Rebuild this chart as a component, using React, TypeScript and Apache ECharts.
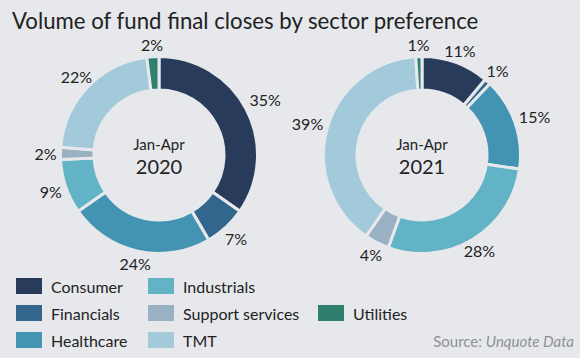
import React, { useEffect, useRef } from "react";
import * as echarts from "echarts";

const categories = [
  "Consumer",
  "Financials",
  "Healthcare",
  "Industrials",
  "Support services",
  "TMT",
  "Utilities",
];
const colors = ["#283b5b", "#33668c", "#4393b3", "#61b3c5", "#9ab0c3", "#a3cadb", "#2f7f6f"];
const values2020 = [35, 7, 24, 9, 2, 22, 2];
const values2021 = [11, 1, 15, 28, 4, 39, 1];
const periodLabel = "Jan-Apr";
const years = ["2020", "2021"];
const legendCol1 = ["Consumer", "Financials", "Healthcare"];
const legendCol2 = ["Industrials", "Support services", "TMT"];
const legendCol3 = ["Utilities"];

const BG = "#e6e8ec";
const FONT = "Lato";
const TEXT = "#222222";

function labelLayout(p: any) {
  const pts = p.labelLinePoints;
  if (!pts || pts.length < 2) return {};
  const [x0, y0] = pts[0];
  const [x1, y1] = pts[1];
  let ux = x1 - x0;
  let uy = y1 - y0;
  const L = Math.hypot(ux, uy) || 1;
  ux /= L;
  uy /= L;
  const w = p.labelRect.width;
  const h = p.labelRect.height;
  const tx = Math.abs(ux) > 1e-6 ? w / 2 / Math.abs(ux) : Infinity;
  const ty = Math.abs(uy) > 1e-6 ? h / 2 / Math.abs(uy) : Infinity;
  const t = 4 + Math.min(tx, ty);
  return { x: x0 + ux * t, y: y0 + uy * t, align: "center", verticalAlign: "middle" };
}

function pieSeries(values: number[], center: [number, number]) {
  return {
    type: "pie",
    center,
    radius: [65, 98.5],
    startAngle: 90,
    clockwise: true,
    avoidLabelOverlap: false,
    silent: true,
    itemStyle: { borderColor: BG, borderWidth: 3 },
    label: {
      show: true,
      position: "outside",
      formatter: "{c}%",
      fontFamily: FONT,
      fontSize: 16,
      color: TEXT,
    },
    labelLine: { show: true, length: 10, length2: 0, lineStyle: { width: 0, opacity: 0 } },
    labelLayout,
    data: categories.map((name, i) => ({
      name,
      value: values[i],
      itemStyle: { color: colors[i] },
    })),
  };
}

function legend(names: string[], left: number, top: number) {
  return {
    data: names,
    orient: "vertical",
    left,
    top,
    padding: 0,
    itemWidth: 28,
    itemHeight: 18,
    itemGap: 7,
    icon: "rect",
    selectedMode: false,
    textStyle: { fontFamily: FONT, fontSize: 16, color: TEXT, padding: [0, 0, 0, 3] },
  };
}

export default function App() {
  const ref = useRef<HTMLDivElement>(null);
  useEffect(() => {
    if (!ref.current) return;
    const chart = echarts.init(ref.current, null, { renderer: "svg" });
    const centers: [number, number][] = [
      [159, 155],
      [422, 155],
    ];
    chart.setOption({
      animation: false,
      backgroundColor: BG,
      title: {
        text: "Volume of fund final closes by sector preference",
        left: 12,
        top: 9,
        padding: 0,
        textStyle: { fontFamily: FONT, fontSize: 22.2, fontWeight: "normal", color: TEXT },
      },
      legend: [legend(legendCol1, 14, 276), legend(legendCol2, 146, 276), legend(legendCol3, 316, 303)],
      series: [pieSeries(values2020, centers[0]), pieSeries(values2021, centers[1])],
      graphic: [
        ...centers.flatMap((c, i) => [
          {
            type: "text",
            x: c[0],
            y: c[1] - 11,
            style: {
              text: periodLabel,
              align: "center",
              verticalAlign: "middle",
              fontFamily: FONT,
              fontSize: 15,
              fill: TEXT,
            },
          },
          {
            type: "text",
            x: c[0],
            y: c[1] + 11,
            style: {
              text: years[i],
              align: "center",
              verticalAlign: "middle",
              fontFamily: FONT,
              fontSize: 20,
              fill: TEXT,
            },
          },
        ]),
        {
          type: "text",
          right: 6,
          top: 333,
          style: {
            text: "{a|Source: }{b|Unquote Data}",
            rich: {
              a: { fontFamily: FONT, fontSize: 15, fill: "#8e9096", color: "#8e9096" },
              b: { fontFamily: FONT, fontSize: 15, fontStyle: "italic", fill: "#8e9096", color: "#8e9096" },
            },
          },
        },
      ],
    });
    return () => chart.dispose();
  }, []);
  return (
    <div
      ref={ref}
      style={{ position: "fixed", left: 0, top: 0, width: 580, height: 358 }}
    />
  );
}
